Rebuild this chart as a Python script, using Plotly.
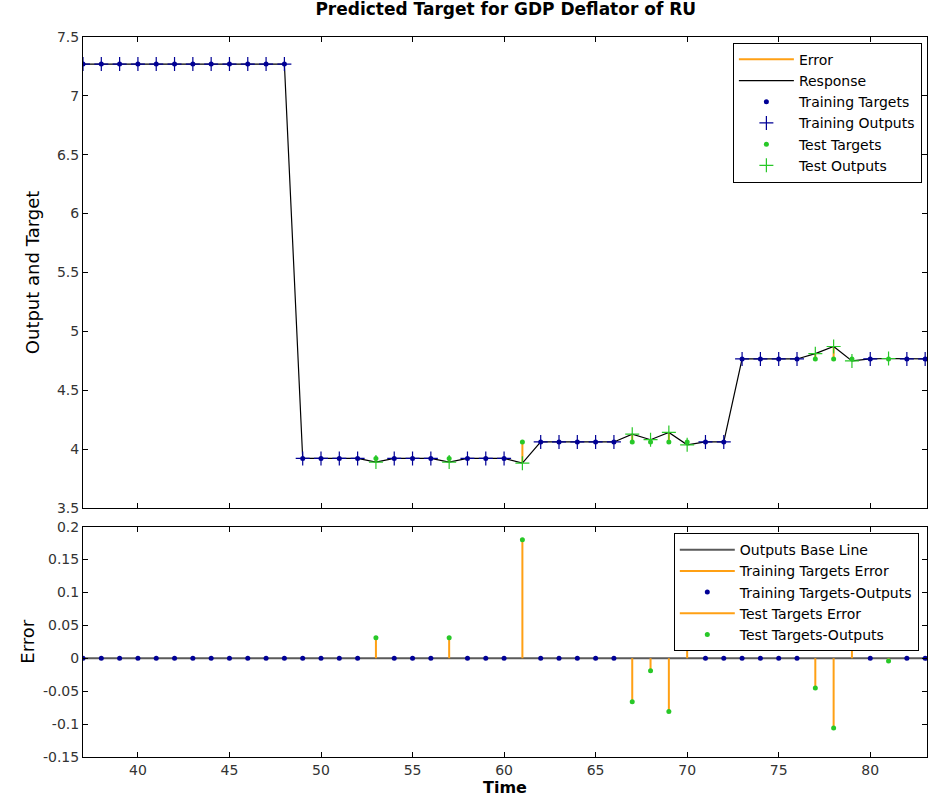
import plotly.graph_objects as go
from plotly.subplots import make_subplots

# ---- data ----
time = [37, 38, 39, 40, 41, 42, 43, 44, 45, 46, 47, 48,
        49, 50, 51, 52, 53, 54, 55, 56, 57, 58, 59, 60,
        61, 62, 63, 64, 65, 66, 67, 68, 69, 70, 71, 72,
        73, 74, 75, 76, 77, 78, 79, 80, 81, 82, 83]

targets = [7.27, 7.27, 7.27, 7.27, 7.27, 7.27, 7.27, 7.27, 7.27, 7.27, 7.27, 7.27,
           3.92, 3.92, 3.92, 3.92, 3.92, 3.92, 3.92, 3.92, 3.92, 3.92, 3.92, 3.92,
           4.06, 4.06, 4.06, 4.06, 4.06, 4.06, 4.06, 4.06, 4.06, 4.06, 4.06, 4.06,
           4.765, 4.765, 4.765, 4.765, 4.765, 4.765, 4.765, 4.765, 4.765, 4.765, 4.765]

outputs = [7.27, 7.27, 7.27, 7.27, 7.27, 7.27, 7.27, 7.27, 7.27, 7.27, 7.27, 7.27,
           3.92, 3.92, 3.92, 3.92, 3.889, 3.92, 3.92, 3.92, 3.889, 3.92, 3.92, 3.92,
           3.88, 4.06, 4.06, 4.06, 4.06, 4.06, 4.126, 4.079, 4.141, 4.036, 4.06, 4.06,
           4.765, 4.765, 4.765, 4.765, 4.81, 4.871, 4.748, 4.765, 4.769, 4.765, 4.765]

test_times = [53, 57, 61, 67, 68, 69, 70, 77, 78, 79, 81]

x_ticks = [40, 45, 50, 55, 60, 65, 70, 75, 80]
y_top_ticks = [3.5, 4, 4.5, 5, 5.5, 6, 6.5, 7, 7.5]
y_top_labels = ["3.5", "4", "4.5", "5", "5.5", "6", "6.5", "7", "7.5"]
y_bot_ticks = [-0.15, -0.1, -0.05, 0, 0.05, 0.1, 0.15, 0.2]
y_bot_labels = ["-0.15", "-0.1", "-0.05", "0", "0.05", "0.1", "0.15", "0.2"]

# ---- derived ----
errors = [round(t - o, 4) for t, o in zip(targets, outputs)]
is_test = [t in test_times for t in time]
tr_x = [t for t, f in zip(time, is_test) if not f]
tr_tg = [v for v, f in zip(targets, is_test) if not f]
tr_out = [v for v, f in zip(outputs, is_test) if not f]
tr_err = [v for v, f in zip(errors, is_test) if not f]
te_x = [t for t, f in zip(time, is_test) if f]
te_tg = [v for v, f in zip(targets, is_test) if f]
te_out = [v for v, f in zip(outputs, is_test) if f]
te_err = [v for v, f in zip(errors, is_test) if f]

ORANGE = "rgb(255,160,20)"
BLUE = "rgb(0,0,150)"
GREEN = "rgb(40,200,40)"
FONT = "DejaVu Sans, Verdana, sans-serif"


def stems(xs, y0s, y1s):
    sx, sy = [], []
    for x, a, b in zip(xs, y0s, y1s):
        sx += [x, x, None]
        sy += [a, b, None]
    return sx, sy


fig = make_subplots(rows=2, cols=1, shared_xaxes=True, vertical_spacing=0.0)

# top panel
ex, ey = stems(te_x, te_tg, te_out)
fig.add_trace(go.Scatter(x=ex, y=ey, mode="lines", name="Error",
                         line=dict(color=ORANGE, width=2), legend="legend"), 1, 1)
fig.add_trace(go.Scatter(x=time, y=outputs, mode="lines", name="Response",
                         line=dict(color="black", width=1.2), legend="legend"), 1, 1)
fig.add_trace(go.Scatter(x=tr_x, y=tr_tg, mode="markers", name="Training Targets",
                         marker=dict(color=BLUE, size=5), legend="legend"), 1, 1)
fig.add_trace(go.Scatter(x=tr_x, y=tr_out, mode="markers", name="Training Outputs",
                         marker=dict(symbol="cross-thin", size=10,
                                     line=dict(color=BLUE, width=1.2)), legend="legend"), 1, 1)
fig.add_trace(go.Scatter(x=te_x, y=te_tg, mode="markers", name="Test Targets",
                         marker=dict(color=GREEN, size=5), legend="legend"), 1, 1)
fig.add_trace(go.Scatter(x=te_x, y=te_out, mode="markers", name="Test Outputs",
                         marker=dict(symbol="cross-thin", size=10,
                                     line=dict(color=GREEN, width=1.2)), legend="legend"), 1, 1)

# bottom panel
fig.add_trace(go.Scatter(x=[time[0], time[-1]], y=[0, 0], mode="lines",
                         name="Outputs Base Line",
                         line=dict(color="rgb(90,90,90)", width=2), legend="legend2"), 2, 1)
sx, sy = stems(tr_x, [0] * len(tr_x), tr_err)
fig.add_trace(go.Scatter(x=sx, y=sy, mode="lines", name="Training Targets Error",
                         line=dict(color=ORANGE, width=2), legend="legend2"), 2, 1)
fig.add_trace(go.Scatter(x=tr_x, y=tr_err, mode="markers", name="Training Targets-Outputs",
                         marker=dict(color=BLUE, size=5), legend="legend2"), 2, 1)
sx, sy = stems(te_x, [0] * len(te_x), te_err)
fig.add_trace(go.Scatter(x=sx, y=sy, mode="lines", name="Test Targets Error",
                         line=dict(color=ORANGE, width=2), legend="legend2"), 2, 1)
fig.add_trace(go.Scatter(x=te_x, y=te_err, mode="markers", name="Test Targets-Outputs",
                         marker=dict(color=GREEN, size=5), legend="legend2"), 2, 1)

axis_common = dict(showline=True, linecolor="black", linewidth=1, mirror="ticks",
                   ticks="inside", ticklen=5, tickcolor="black", showgrid=False,
                   zeroline=False, tickfont=dict(family=FONT, size=14, color="#333"))

fig.update_xaxes(range=[37, 83.1], tickvals=x_ticks, **axis_common)
fig.update_xaxes(showticklabels=False, row=1, col=1)
fig.update_xaxes(title=dict(text="<b>Time</b>", font=dict(family=FONT, size=16, color="black"),
                            standoff=0), row=2, col=1)
fig.update_yaxes(**axis_common)
fig.update_yaxes(range=[3.5, 7.5], tickvals=y_top_ticks, ticktext=y_top_labels,
                 title=dict(text="Output and Target", font=dict(family=FONT, size=18, color="black"),
                            standoff=12), row=1, col=1)
fig.update_yaxes(range=[-0.15, 0.2], tickvals=y_bot_ticks, ticktext=y_bot_labels,
                 title=dict(text="Error", font=dict(family=FONT, size=18, color="black"),
                            standoff=3), row=2, col=1)

fig.update_layout(
    width=928, height=798,
    margin=dict(l=83, r=1, t=37, b=41),
    paper_bgcolor="white", plot_bgcolor="white",
    title=dict(text="<b>Predicted Target for GDP Deflator of RU</b>", x=0.545, xanchor="center",
               y=0.996, yanchor="top", font=dict(family=FONT, size=17, color="black")),
    yaxis=dict(domain=[0.346, 1.0]),
    yaxis2=dict(domain=[0.0, 0.320]),
    legend=dict(x=0.770, xanchor="left", y=0.992, yanchor="top",
                bgcolor="white", bordercolor="black", borderwidth=1,
                font=dict(family=FONT, size=14, color="black"), itemwidth=55,
                tracegroupgap=0),
    legend2=dict(x=0.700, xanchor="left", y=0.311, yanchor="top",
                 bgcolor="white", bordercolor="black", borderwidth=1,
                 font=dict(family=FONT, size=14, color="black"), itemwidth=55,
                 tracegroupgap=0),
    showlegend=True,
)

fig.write_html("out.html", config={"displayModeBar": False},
               post_script="document.body.style.margin='0px';")
